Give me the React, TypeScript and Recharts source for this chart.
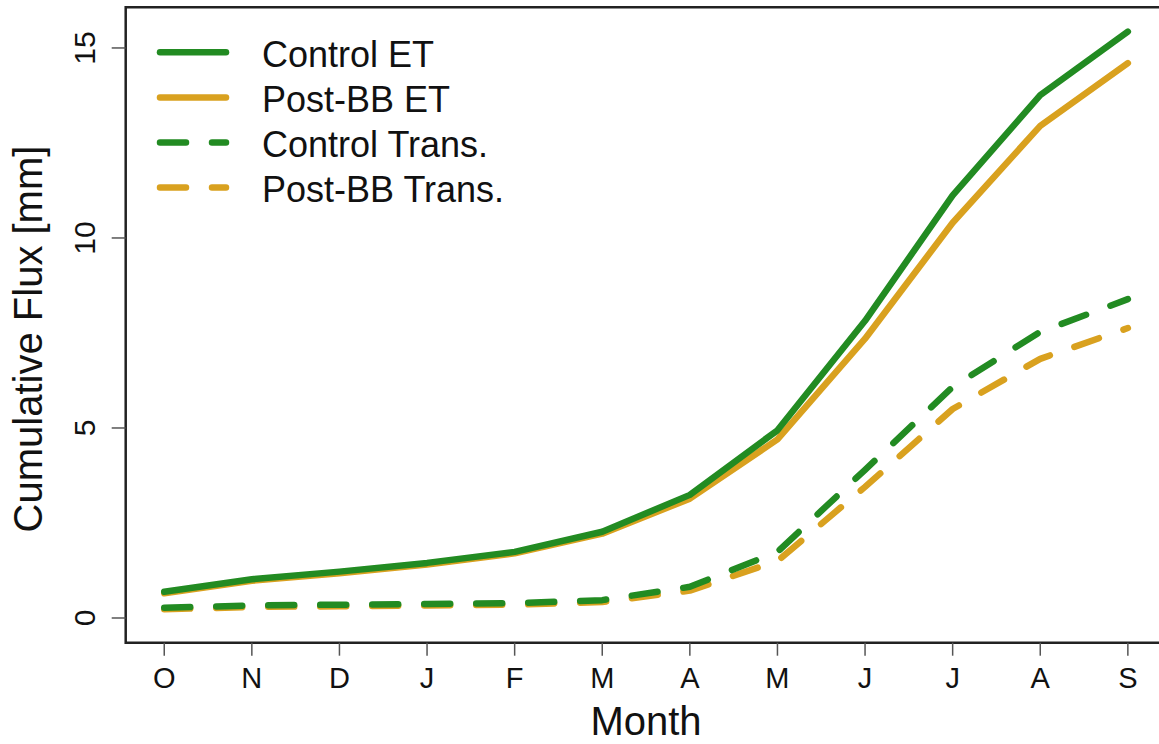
import { LineChart, Line, XAxis, YAxis, ReferenceArea } from "recharts";

const months = ["O", "N", "D", "J", "F", "M", "A", "M", "J", "J", "A", "S"];
const controlET = [0.69, 1.02, 1.22, 1.45, 1.74, 2.27, 3.24, 4.94, 7.82, 11.12, 13.76, 15.43];
const postBBET = [0.65, 0.98, 1.18, 1.41, 1.7, 2.22, 3.14, 4.7, 7.35, 10.4, 12.95, 14.6];
const controlTrans = [0.27, 0.33, 0.35, 0.37, 0.39, 0.47, 0.82, 1.74, 3.9, 6.08, 7.53, 8.39];
const postBBTrans = [0.23, 0.29, 0.31, 0.33, 0.35, 0.42, 0.72, 1.5, 3.45, 5.5, 6.82, 7.63];
const yTicks = [0, 5, 10, 15];

const GREEN = "#228B22";
const GOLD = "#D9A11F";
const FONT = "'Liberation Sans', Arial, Helvetica, sans-serif";
const DASH = "26 26";
const LW = 6.5;

const X_DOMAIN: [number, number] = [-0.44, 11.44];
const Y_DOMAIN: [number, number] = [-0.65, 16.07];

// legend order (top to bottom)
const series = [
  { key: "cet", name: "Control ET", color: GREEN, dash: undefined as string | undefined },
  { key: "pet", name: "Post-BB ET", color: GOLD, dash: undefined as string | undefined },
  { key: "ctr", name: "Control Trans.", color: GREEN, dash: DASH },
  { key: "ptr", name: "Post-BB Trans.", color: GOLD, dash: DASH },
];

// gold drawn first so green sits on top where they overlap
const drawOrder = ["ptr", "pet", "ctr", "cet"];

const data = months.map((m, i) => ({
  idx: i,
  month: m,
  cet: controlET[i],
  pet: postBBET[i],
  ctr: controlTrans[i],
  ptr: postBBTrans[i],
}));

function XTick({ x, payload }: any) {
  return (
    <text x={x} y={688} textAnchor="middle" fontSize={29} fontFamily={FONT} fill="#111">
      {months[payload.value]}
    </text>
  );
}

function YTick({ y, payload }: any) {
  return (
    <text
      x={95}
      y={y}
      transform={`rotate(-90, 95, ${y})`}
      textAnchor="middle"
      fontSize={30}
      fontFamily={FONT}
      fill="#111"
    >
      {payload.value}
    </text>
  );
}

function LegendBox() {
  return (
    <g>
      {series.map((s, i) => {
        const cy = 52.3 + i * 45.1;
        return (
          <g key={s.key}>
            <line
              x1={160}
              x2={226}
              y1={cy}
              y2={cy}
              stroke={s.color}
              strokeWidth={LW}
              strokeLinecap="round"
              strokeDasharray={s.dash}
            />
            <text x={262} y={cy + 14.4} fontSize={36} fontFamily={FONT} fill="#111">
              {s.name}
            </text>
          </g>
        );
      })}
    </g>
  );
}

export default function App() {
  return (
    <div style={{ position: "absolute", left: 0, top: 0, width: 1159, height: 744, overflow: "hidden", background: "#fff" }}>
      <LineChart
        width={1180}
        height={744}
        data={data}
        margin={{ top: 7.3, right: 13.6, left: 65.7, bottom: 41.3 }}
      >
        <XAxis
          dataKey="idx"
          type="number"
          domain={X_DOMAIN}
          ticks={months.map((_, i) => i)}
          allowDataOverflow
          axisLine={false}
          tickLine={{ stroke: "#555", strokeWidth: 1.5 }}
          tickSize={13}
          height={60}
          tick={<XTick />}
          interval={0}
        />
        <YAxis
          type="number"
          domain={Y_DOMAIN}
          ticks={yTicks}
          allowDataOverflow
          axisLine={false}
          tickLine={{ stroke: "#555", strokeWidth: 1.5 }}
          tickSize={14}
          width={60}
          tick={<YTick />}
          interval={0}
        />
        <ReferenceArea
          x1={X_DOMAIN[0]}
          x2={X_DOMAIN[1]}
          y1={Y_DOMAIN[0]}
          y2={Y_DOMAIN[1]}
          fill="none"
          fillOpacity={0}
          stroke="#222"
          strokeWidth={2.5}
          ifOverflow="visible"
        />
        {drawOrder.map((k) => {
          const s = series.find((d) => d.key === k)!;
          return (
            <Line
              key={k}
              dataKey={k}
              name={s.name}
              type="linear"
              stroke={s.color}
              strokeWidth={LW}
              strokeDasharray={s.dash}
              strokeLinecap="round"
              strokeLinejoin="round"
              dot={false}
              activeDot={false}
              isAnimationActive={false}
            />
          );
        })}
      </LineChart>
      <svg width={1159} height={744} style={{ position: "absolute", left: 0, top: 0, pointerEvents: "none" }}>
        <LegendBox />
        <text x={646} y={735} textAnchor="middle" fontSize={40} fontFamily={FONT} fill="#111">
          Month
        </text>
        <text
          x={41.5}
          y={339}
          transform="rotate(-90, 41.5, 339)"
          textAnchor="middle"
          fontSize={40}
          fontFamily={FONT}
          fill="#111"
        >
          Cumulative Flux [mm]
        </text>
      </svg>
    </div>
  );
}
